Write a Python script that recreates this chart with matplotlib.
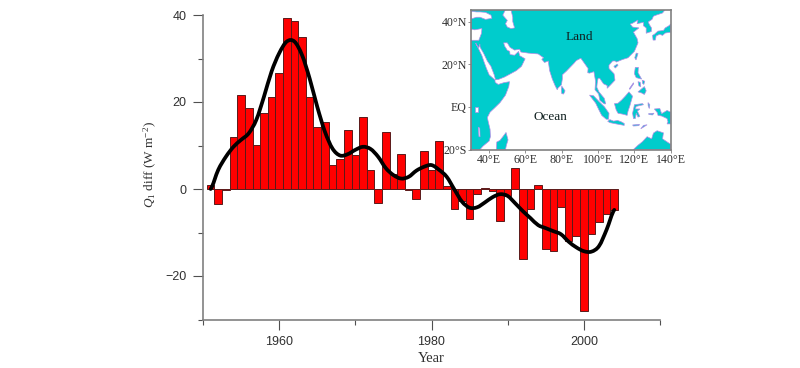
import matplotlib
matplotlib.use("Agg")
import matplotlib.pyplot as plt
from matplotlib.patches import Polygon, PathPatch
from matplotlib.path import Path

plt.rcParams['mathtext.fontset'] = 'custom'
plt.rcParams['mathtext.rm'] = 'Liberation Serif'
plt.rcParams['mathtext.it'] = 'Liberation Serif:italic'

years = list(range(1951, 2005))
q1_diff = [1.0, -3.5, -0.3, 12.0, 21.5, 18.6, 10.2, 17.4, 21.1, 26.7,
           39.3, 38.6, 34.9, 21.1, 14.2, 15.3, 5.6, 6.8, 13.6, 7.8,
           16.6, 4.3, -3.3, 13.0, 3.5, 8.1, -0.2, -2.4, 8.7, 4.4,
           11.1, 0.6, -4.6, -2.7, -6.8, -1.1, 0.3, -0.4, -7.3, -1.5,
           4.8, -16.2, -4.7, 0.9, -13.7, -14.2, -4.2, -11.9, -10.8, -28.0,
           -10.4, -7.7, -5.8, -4.9]
q1_smooth = [0.0, 4.4, 7.4, 9.7, 11.3, 12.8, 15.9, 21.2, 27.0, 31.2,
             33.9, 33.9, 30.8, 25.4, 18.9, 13.2, 9.3, 7.7, 8.0, 9.0,
             9.7, 9.2, 7.4, 4.8, 3.2, 2.4, 2.8, 4.2, 5.1, 5.5,
             4.4, 2.8, -0.1, -2.9, -4.3, -4.2, -3.1, -1.9, -1.2, -1.6,
             -3.3, -5.1, -6.7, -8.3, -9.0, -9.7, -10.4, -12.1, -13.4, -14.3,
             -14.4, -13.1, -9.3, -4.8]

# coastlines, (lon, lat)
eurasia_africa = [(30, -20), (35, -20), (36.5, -18.5), (40, -16), (40.7, -14), (40.5, -10.5), (39.5, -7),
                  (39, -5), (40.5, -2.5), (43, -0.5), (46, 2), (49, 5.5), (50.8, 9.5), (51.2, 11.8),
                  (48, 11.3), (45, 10.5), (43.3, 11.5), (43.2, 12.6), (40, 15), (38.5, 18), (37.2, 21),
                  (36, 24), (34, 27.5), (32.6, 29.9), (33, 29), (34.3, 27.8), (34.9, 29.5), (35, 28),
                  (37, 25), (39, 21.5), (41, 19), (42.8, 15), (43.5, 12.7), (45, 12.8), (48.5, 14),
                  (52, 15.6), (55, 17), (57.8, 19), (59.8, 22.5), (56.8, 24), (56.2, 26), (54, 24.2),
                  (51.5, 24.5), (51.3, 26), (50, 26.5), (48.5, 28.5), (48, 30), (50, 30), (51.5, 27.9),
                  (54, 26.6), (56.7, 27), (57.5, 25.7), (61.5, 25.2), (67, 24.8), (70, 23), (69, 22.3),
                  (70.5, 20.8), (72.6, 21.5), (72.8, 20), (73.3, 17), (74.8, 13), (76.3, 10), (77.5, 8),
                  (78, 8.9), (79.8, 10.3), (80.3, 13), (80.3, 15), (82.5, 16.7), (86.8, 20.5), (88, 21.7),
                  (90.5, 22.8), (92, 21), (94.5, 18), (94.3, 16), (95.3, 15.8), (97.7, 16.5), (98.6, 12),
                  (98.3, 8), (100.3, 6), (101, 3), (103.4, 1.4), (104.2, 1.4), (103.4, 4), (100.5, 7),
                  (99.3, 9.2), (99.5, 11), (100, 13.4), (100.9, 13.4), (103, 10.8), (105, 10), (105, 8.7),
                  (107, 10.4), (109.3, 12.5), (108.8, 15.5), (106, 18), (106, 19.5), (108, 21.5),
                  (109.5, 21.5), (110, 21), (113.5, 22.2), (116.5, 23), (120, 26), (122, 30), (121.5, 32),
                  (119.5, 35), (122.5, 37), (119, 37.4), (117.7, 38.8), (119, 39.2), (122, 40.7),
                  (121.5, 39), (125, 39.6), (125, 38), (126.5, 37), (126.5, 34.5), (129.3, 35.3),
                  (129.4, 37), (128.3, 38.5), (127.6, 39.8), (129.7, 41), (130.5, 42.5), (132, 43),
                  (135.5, 44), (137, 45.6), (30, 45.6), (30, 36.5), (32, 36.1), (36, 36.7), (35.8, 34.5),
                  (34.3, 31.2), (32.3, 31.2), (30, 31.2)]
madagascar = [(49.3, -12), (50.4, -15.5), (49.5, -18), (49, -20), (44, -20), (44.2, -16.5), (46, -15.7), (48, -13.5)]
sri_lanka = [(80, 9.7), (81.8, 7.5), (81, 6), (80, 6.2), (79.8, 8)]
sumatra = [(95.3, 5.5), (97.5, 5.2), (100.5, 2.5), (103.5, 0), (106, -3), (105.8, -5.8), (104.5, -5.8),
           (102, -4), (100.5, -1.5), (98.7, 1.7)]
java = [(105.3, -6.8), (106.5, -6), (108.5, -6.7), (110.8, -6.4), (112.7, -7), (114.4, -7.8), (114.4, -8.7),
        (110, -8), (106.5, -7.4)]
borneo = [(109, 1.5), (111, 1.7), (113, 3.2), (115, 5), (117, 7), (119, 5), (118, 2), (117.5, 0.5),
          (116.5, -2), (116, -4), (114, -3.5), (111, -3), (110, -1.5)]
sulawesi = [(120, 1), (124.5, 1.5), (125, 1), (121, 0.2), (120.5, -1), (123, -1), (121.7, -2), (123, -4.5),
            (122, -4.8), (121, -3), (120.5, -5.5), (119.5, -5.5), (119, -3), (119.8, 0)]
new_guinea = [(131, -1), (134, -0.8), (135, -3.2), (138, -1.7), (140, -2.5), (140, -8), (138, -8), (138.5, -7),
              (138, -5.5), (135, -4.3), (133, -4), (132.7, -2.8)]
australia = [(140, -17.5), (139, -17), (135.5, -15), (136, -12.2), (132.5, -11.2), (130.5, -12.3), (129.5, -15),
             (127, -14), (124.5, -16.3), (122, -18), (119.5, -20), (140, -20)]
luzon = [(120.5, 18.5), (122.2, 18.5), (122, 16), (124, 13), (121, 13.7), (120, 15.5)]
mindanao = [(122, 7), (125.5, 9.5), (126.5, 7.5), (125.5, 5.8), (124, 6.5)]
samar = [(124.3, 12.5), (125.7, 12), (125.2, 10.5), (124.5, 11)]
panay = [(122, 11.8), (123.2, 11.5), (123.5, 9.5), (122.5, 9.8)]
palawan = [(117.2, 8.5), (119.5, 11.3), (119.6, 10.8), (117.5, 8.2)]
taiwan = [(121, 25.2), (122, 25), (120.9, 22), (120.2, 23)]
hainan = [(108.7, 19), (110.5, 20), (111, 19.5), (109.5, 18.2)]
honshu = [(130, 33.5), (131, 34), (133, 35.5), (136, 35.8), (137, 37), (139, 38), (140, 38.8), (140, 35),
          (137, 34.6), (135.5, 33.5), (134, 34), (132, 33.3), (131.5, 31.3), (130.3, 31.3)]
timor = [(123.5, -10.3), (127, -8.4), (125, -8.7)]
flores = [(119, -8.5), (122.8, -8.2), (122.5, -8.8), (119.5, -9)]
seram = [(127.8, -3.2), (130.8, -3), (130, -3.8), (128, -3.6)]
halmahera = [(127.5, 2), (128.5, 1), (128.2, -0.8), (127.6, 0.5)]
lands = [eurasia_africa, madagascar, sri_lanka, sumatra, java, borneo, sulawesi, new_guinea, australia,
         luzon, mindanao, samar, panay, palawan, taiwan, hainan, honshu, timor, flores, seram, halmahera]

black_sea = [(30, 41.2), (33, 42), (35, 42), (38, 41), (41.5, 41.5), (41, 43), (38, 44.3), (35, 44.5), (33, 44.5), (30, 44.8)]
caspian = [(49, 45.6), (52, 45.6), (53, 42), (53, 40), (54, 37), (52, 36.7), (50, 37.4), (49, 39), (50, 40.5), (47.5, 43)]
victoria = [(32, 0), (34, 0), (34, -2.5), (32, -2.5)]
malawi = [(34, -9.5), (34.8, -10), (35, -14), (34.4, -14)]
waters = [black_sea, caspian, victoria, malawi]

map_xticks = [40, 60, 80, 100, 120, 140]
map_xlabels = ['40°E', '60°E', '80°E', '100°E', '120°E', '140°E']
map_yticks = [40, 20, 0, -20]
map_ylabels = ['40°N', '20°N', 'EQ', '20°S']

W, H = 800, 368
grey = '#808080'
text_c = '#303030'
teal = '#00CCCC'
coast = '#B48CE6'


def smooth_path(xs, ys):
    # Bezier segments through the read values, so the line has no corners
    verts = [(xs[0], ys[0])]
    codes = [Path.MOVETO]
    n = len(xs)
    for i in range(n - 1):
        y_prev = ys[max(i - 1, 0)]
        y_next = ys[min(i + 2, n - 1)]
        verts.append((xs[i] + 1 / 3, ys[i] + (ys[i + 1] - y_prev) / 6))
        verts.append((xs[i + 1] - 1 / 3, ys[i + 1] - (y_next - ys[i]) / 6))
        verts.append((xs[i + 1], ys[i + 1]))
        codes += [Path.CURVE4, Path.CURVE4, Path.CURVE4]
    return Path(verts, codes)


fig = plt.figure(figsize=(8, 3.68), dpi=100)
ax = fig.add_axes([203 / W, 1 - 319.5 / H, 457 / W, 304.5 / H])

ax.bar(years, q1_diff, width=1.0, color='#FF0000', edgecolor='#5a1a1a', linewidth=0.7)
ax.add_patch(PathPatch(smooth_path(years, q1_smooth), facecolor='none', edgecolor='black',
                       linewidth=2.7, capstyle='round', joinstyle='round', zorder=3))

ax.set_xlim(1950, 2010)
ax.set_ylim(-30, 40)
ax.spines['top'].set_visible(False)
ax.spines['right'].set_visible(False)
ax.spines['left'].set_color(grey)
ax.spines['bottom'].set_color(grey)
ax.spines['left'].set_linewidth(1.2)
ax.spines['bottom'].set_linewidth(1.2)

ax.set_xticks([1960, 1980, 2000])
ax.set_xticks([1950, 1970, 1990, 2010], minor=True)
ax.set_yticks([-20, 0, 20, 40])
ax.set_yticklabels(['\u221220', '0', '20', '40'])
ax.set_yticks([-30, -10, 10, 30], minor=True)
ax.tick_params(which='major', length=7, width=0.8, color='#505050', labelsize=9, labelcolor=text_c, pad=5)
ax.tick_params(which='minor', length=3.5, width=0.8, color='#505050')
for lab in ax.get_xticklabels() + ax.get_yticklabels():
    lab.set_family('Liberation Sans')

fig.text(431 / W, 1 - 358 / H, 'Year', family='Liberation Serif', fontsize=10.5, color=text_c, ha='center', va='center')
fig.text(150 / W, 1 - 165 / H, r'$\mathit{Q}_{1}$ diff (W m$^{-2}$)', family='Liberation Serif', fontsize=9.5,
         color=text_c, rotation=90, ha='center', va='center')

# map inset
inset = fig.add_axes([471 / W, 1 - 149.5 / H, 199.7 / W, 139.5 / H])
inset.set_xlim(30, 140)
inset.set_ylim(-20, 45.4)
for pts in lands:
    inset.add_patch(Polygon(pts, closed=True, facecolor=teal, edgecolor=coast, linewidth=0.5))
for pts in waters:
    inset.add_patch(Polygon(pts, closed=True, facecolor='white', edgecolor=coast, linewidth=0.5))
inset.set_xticks(map_xticks)
inset.set_xticklabels(map_xlabels)
inset.set_yticks(map_yticks)
inset.set_yticklabels(map_ylabels)
inset.tick_params(length=2, width=0.6, color=grey, labelsize=8.6, labelcolor=text_c, pad=1)
for lab in inset.get_xticklabels() + inset.get_yticklabels():
    lab.set_family('Liberation Serif')
for sp in inset.spines.values():
    sp.set_color(grey)
    sp.set_linewidth(1.2)
inset.text(89.5, 32.6, 'Land', family='Liberation Serif', fontsize=9.6, color='#102020', ha='center', va='center')
inset.text(73.5, -4.8, 'Ocean', family='Liberation Serif', fontsize=9.5, color='#102020', ha='center', va='center')

fig.savefig('out.png', dpi=100)
